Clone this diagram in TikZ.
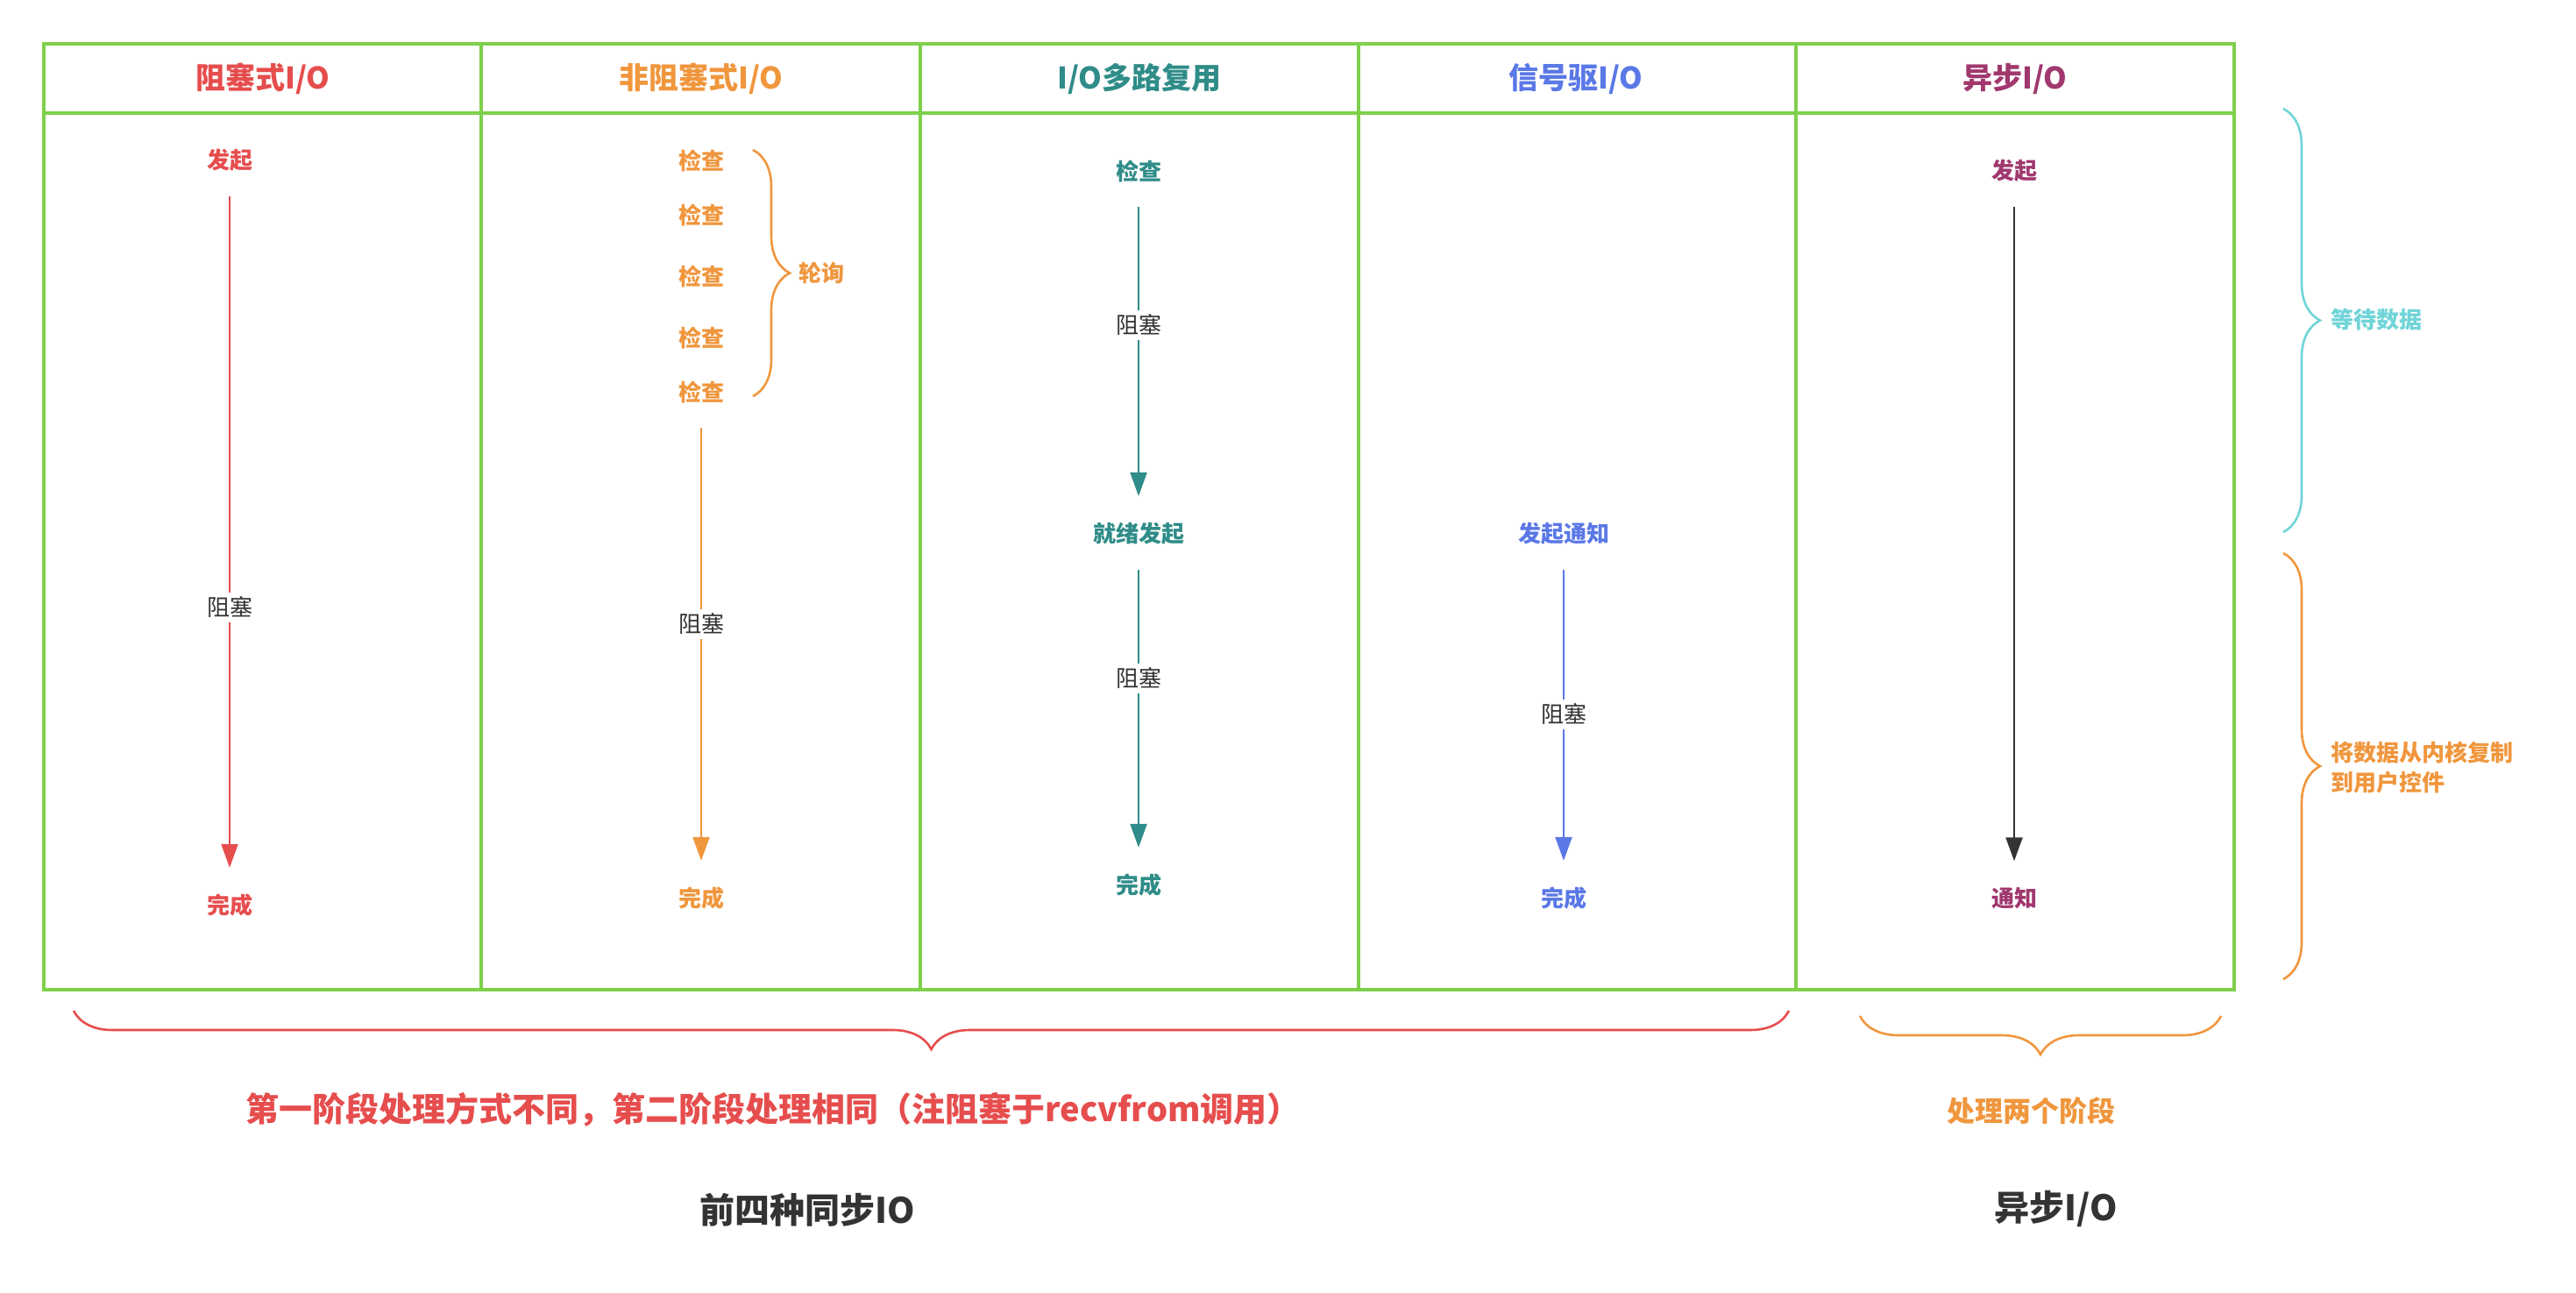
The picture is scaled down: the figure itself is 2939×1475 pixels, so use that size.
\documentclass[tikz,border=0pt]{standalone}
\usepackage{fontspec}
\setmainfont{Noto Sans CJK SC}
\usetikzlibrary{arrows.meta,decorations.pathreplacing}
\definecolor{gridgreen}{HTML}{7ED04B}
\definecolor{cred}{HTML}{E64D4D}
\definecolor{corange}{HTML}{F0963D}
\definecolor{cteal}{HTML}{2F8C88}
\definecolor{cblue}{HTML}{5A78E6}
\definecolor{cpurple}{HTML}{A0386E}
\definecolor{ccyan}{HTML}{70D4D8}
\definecolor{cdark}{HTML}{333333}

\begin{document}
\begin{tikzpicture}[x=0.5pt,y=-0.5pt,
  grid/.style={draw=gridgreen, line width=1.6pt},
  colhead/.style={font=\bfseries\fontsize{17}{20}\selectfont},
  lbl/.style={font=\bfseries\fontsize{13}{16}\selectfont, inner sep=0pt},
  blk/.style={font=\fontsize{13}{16}\selectfont, text=cdark, inner sep=2.5pt},
  flow/.style={line width=1.1pt},
  fromlbl/.style={shorten <=14pt},
  arrowend/.style={-{Triangle[length=13.5pt,width=9.5pt]}, shorten >=15pt},
  curly/.style={decorate, decoration={brace, amplitude=#1}, line width=1.3pt},
  curly/.default=21pt]
\useasboundingbox (0,0) rectangle (2939,1475);

% table
\draw [grid] (50,50) rectangle (2549,1129);
\draw [grid] (50,129) -- (2549,129);
\foreach \x in {549,1050,1550,2049}
  \draw [grid] (\x,50) -- (\x,1129);

\node [colhead, text=cred] (h1) at (300,90) {阻塞式I/O};
\node [colhead, text=corange] (h2) at (800,90) {非阻塞式I/O};
\node [colhead, text=cteal] (h3) at (1300,90) {I/O多路复用};
\node [colhead, text=cblue] (h4) at (1798,90) {信号驱I/O};
\node [colhead, text=cpurple] (h5) at (2299,90) {异步I/O};

% blocking
\node [lbl, text=cred] (a1) at (262,183) {发起};
\node [blk] (a2) at (262,693) {阻塞};
\node [lbl, text=cred] (a3) at (262,1033) {完成};
\draw [flow, fromlbl, cred] (a1) -- (a2);
\draw [flow, arrowend, cred] (a2) -- (a3);

% non-blocking
\foreach \y [count=\i] in {183,245,315,385,447}
  \node [lbl, text=corange] (c\i) at (800,\y) {检查};
\draw [curly, corange] (859,171) -- (859,452);
\node [lbl, text=corange, anchor=west] (poll) at (911,312) {轮询};
\node [blk] (b2) at (800,712) {阻塞};
\node [lbl, text=corange] (b3) at (800,1025) {完成};
\draw [flow, fromlbl, corange] (c5) -- (b2);
\draw [flow, arrowend, corange] (b2) -- (b3);

% multiplexing
\node [lbl, text=cteal] (m1) at (1299,195) {检查};
\node [blk] (m2) at (1299,371) {阻塞};
\node [lbl, text=cteal] (m3) at (1299,609) {就绪发起};
\node [blk] (m4) at (1299,774) {阻塞};
\node [lbl, text=cteal] (m5) at (1299,1010) {完成};
\draw [flow, fromlbl, cteal] (m1) -- (m2);
\draw [flow, arrowend, cteal] (m2) -- (m3);
\draw [flow, fromlbl, cteal] (m3) -- (m4);
\draw [flow, arrowend, cteal] (m4) -- (m5);

% signal driven
\node [lbl, text=cblue] (s1) at (1784,609) {发起通知};
\node [blk] (s2) at (1784,815) {阻塞};
\node [lbl, text=cblue] (s3) at (1784,1025) {完成};
\draw [flow, fromlbl, cblue] (s1) -- (s2);
\draw [flow, arrowend, cblue] (s2) -- (s3);

% asynchronous
\node [lbl, text=cpurple] (y1) at (2298,195) {发起};
\node [lbl, text=cpurple] (y2) at (2298,1025) {通知};
\draw [flow, fromlbl, arrowend, cdark] (y1) -- (y2);

% phases
\draw [curly, ccyan] (2605,124) -- (2605,607);
\node [lbl, text=ccyan, anchor=west] (wait) at (2659,365) {等待数据};
\draw [curly, corange] (2605,631) -- (2605,1117);
\node [lbl, text=corange, anchor=west, align=left, font=\bfseries\fontsize{13}{17}\selectfont] (copy) at (2659,876) {将数据从内核复制\\到用户控件};

% bottom
\draw [curly=22pt, cred] (2041,1153) -- (84,1153);
\draw [curly=22pt, corange] (2534,1159) -- (2122,1159);
\node [text=cred, font=\bfseries\fontsize{19}{23}\selectfont] (note1) at (882,1266) {第一阶段处理方式不同，第二阶段处理相同（注阻塞于recvfrom调用）};
\node [text=corange, font=\bfseries\fontsize{16}{19}\selectfont] (note2) at (2317,1267) {处理两个阶段};
\node [text=cdark, font=\bfseries\fontsize{20}{24}\selectfont] (sync) at (921,1380) {前四种同步IO};
\node [text=cdark, font=\bfseries\fontsize{20}{24}\selectfont] (async) at (2346,1379) {异步I/O};
\end{tikzpicture}
\end{document}
